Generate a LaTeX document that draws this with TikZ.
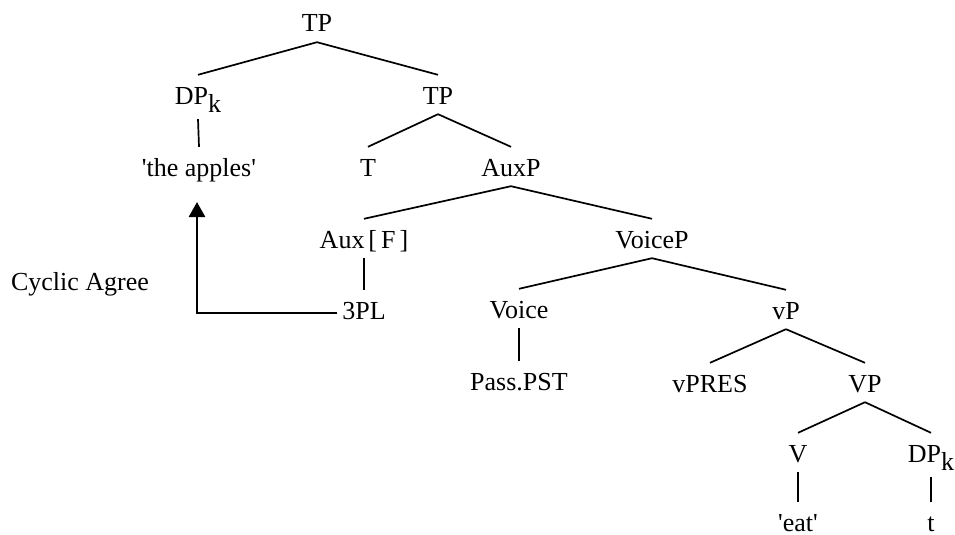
\documentclass[tikz,border=0pt]{standalone}
\usepackage{fontspec}
\setmainfont{Liberation Serif}
\usetikzlibrary{arrows.meta}
\tikzset{
  cat/.style={anchor=base,inner ysep=0pt,inner xsep=1pt,text height=29pt,text depth=10pt},
  dpcat/.style={cat,text depth=15pt},
  leafcat/.style={cat,text depth=0pt},
  branch/.style={line width=1.7pt},
  agreeline/.style={line width=2.6pt,-{Triangle[width=16pt,length=15pt]}}
}
\newcommand{\dpk}{DP\raisebox{-8pt}{k}}
\newcommand{\q}{\textquotesingle}
\begin{document}
\begin{tikzpicture}[x=1pt,y=-1pt,font=\fontsize{26}{30}\selectfont]
  \useasboundingbox (0,0) rectangle (955,535);
  \node[cat] (tp) at (317,32) {TP};
  \node[dpcat] (dpk) at (198,104) {\dpk};
  \node[cat] (apples) at (199,176) {\q the apples\q};
  \node[cat] (tpb) at (438,104) {TP};
  \node[cat] (t) at (368,176) {T};
  \node[cat] (auxp) at (511,176) {AuxP};
  \node[cat] (aux) at (364,248) {Aux\kern4pt[\kern4pt F\kern4pt]};
  \node[cat] (voicep) at (652,248) {VoiceP};
  \node[cat] (threepl) at (364,319) {3PL};
  \node[cat] (voice) at (519,318) {Voice};
  \node[cat] (vp) at (786,319) {vP};
  \node[cat] (pass) at (519,390) {Pass.PST};
  \node[cat] (vpres) at (710,392) {vPRES};
  \node[cat] (vvp) at (865,392) {VP};
  \node[cat] (v) at (798,462) {V};
  \node[dpcat] (dpt) at (931,462) {\dpk};
  \node[leafcat] (eat) at (798,531) {\q eat\q};
  \node[leafcat] (trace) at (931,531) {t};
  \node[cat] (agree) at (80,290) {Cyclic Agree};
  \coordinate (agreetip) at (197,202);
  \draw[branch] (tp.south) -- (dpk.north);
  \draw[branch] (tp.south) -- (tpb.north);
  \draw[branch] (dpk.south) -- (apples.north);
  \draw[branch] (tpb.south) -- (t.north);
  \draw[branch] (tpb.south) -- (auxp.north);
  \draw[branch] (auxp.south) -- (aux.north);
  \draw[branch] (auxp.south) -- (voicep.north);
  \draw[branch] (aux.south) -- (threepl.north);
  \draw[branch] (voicep.south) -- (voice.north);
  \draw[branch] (voicep.south) -- (vp.north);
  \draw[branch] (voice.south) -- (pass.north);
  \draw[branch] (vp.south) -- (vpres.north);
  \draw[branch] (vp.south) -- (vvp.north);
  \draw[branch] (vvp.south) -- (v.north);
  \draw[branch] (vvp.south) -- (dpt.north);
  \draw[branch] (v.south) -- (eat.north);
  \draw[branch] (dpt.south) -- (trace.north);
  \draw[agreeline] ([xshift=-4pt,yshift=6pt]threepl.base west) -| (agreetip);
\end{tikzpicture}
\end{document}
